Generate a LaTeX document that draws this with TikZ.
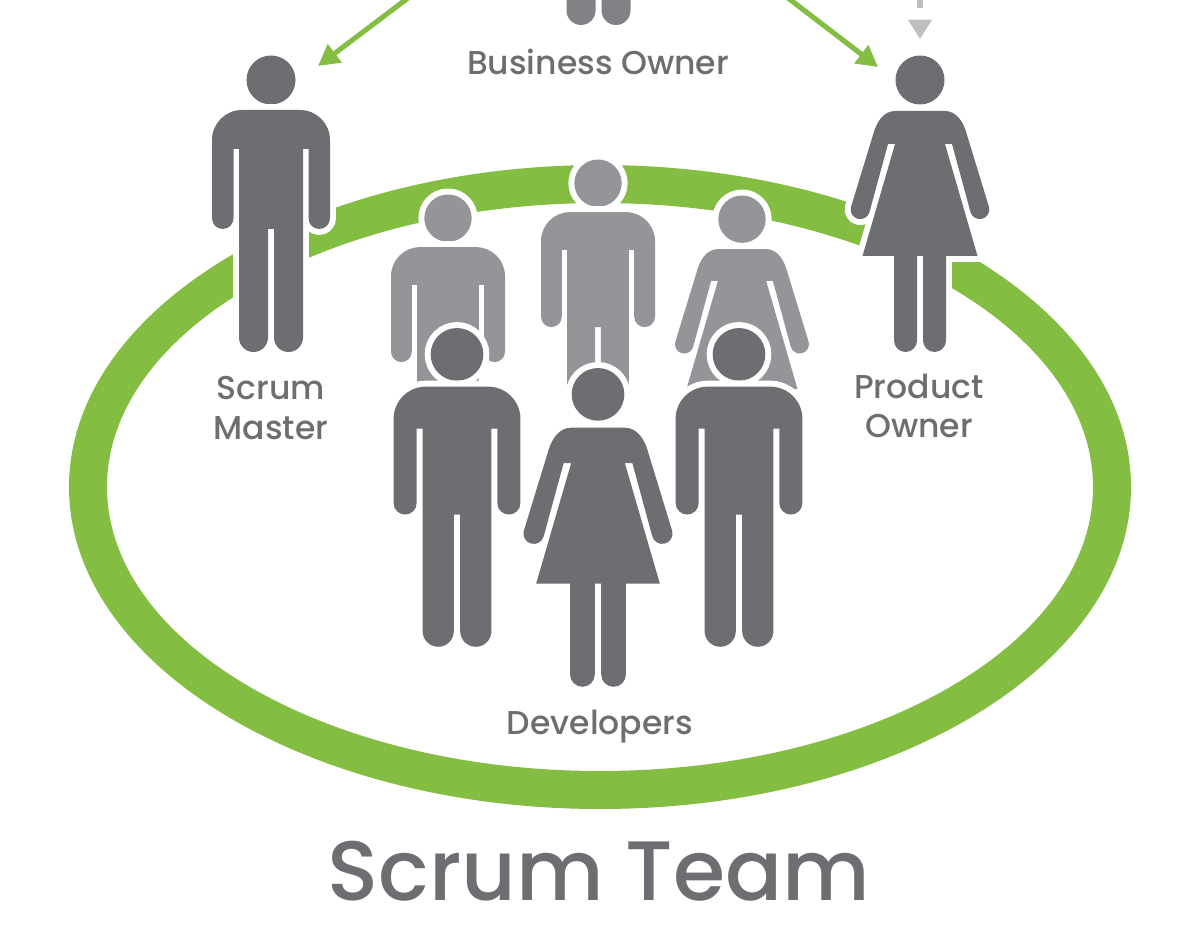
\documentclass[tikz,border=0pt]{standalone}
\usepackage{fontspec}
\setmainfont{Poppins Medium}
\usepackage{tikz}
\usetikzlibrary{arrows.meta}
\definecolor{teamgreen}{HTML}{83BD42}
\definecolor{figdark}{HTML}{6D6E71}
\definecolor{figmid}{HTML}{808285}
\definecolor{figlight}{HTML}{939598}
\definecolor{cutgray}{HTML}{BCBEC0}
\newcommand{\manfig}[4]{%
  \begin{scope}[shift={(#1,{-(#2)})},scale=#3]
    \fill[#4,figure halo] (0,-25) circle (24.5);
    \fill[#4,figure halo] (-29,-55) -- (29,-55) arc[start angle=90,end angle=0,radius=30]
      -- (59,-163.25) arc[start angle=0,end angle=-180,radius=10.75]
      -- (37.5,-94) -- (32,-94) -- (32,-282.5) arc[start angle=0,end angle=-180,radius=14.5]
      -- (3,-174) -- (-3,-174) -- (-3,-282.5) arc[start angle=0,end angle=-180,radius=14.5]
      -- (-32,-94) -- (-37.5,-94) -- (-37.5,-163.25) arc[start angle=0,end angle=-180,radius=10.75]
      -- (-59,-85) arc[start angle=180,end angle=90,radius=30] -- cycle;
  \end{scope}}
\newcommand{\womanfig}[4]{%
  \begin{scope}[shift={(#1,{-(#2)})},scale=#3]
    \fill[#4,figure halo] (0,-25) circle (24.5);
    \fill[#4,figure halo] (-25,-56) -- (25,-56) .. controls (37,-56) and (44,-68) .. (47,-80)
      -- (69,-152) arc[start angle=15,end angle=-165,radius=9.6]
      -- (32,-89) -- (25,-89) -- (57.5,-201) -- (26,-201)
      -- (26,-285.5) arc[start angle=0,end angle=-180,radius=11.5]
      -- (3,-201) -- (-3,-201) -- (-3,-285.5) arc[start angle=0,end angle=-180,radius=11.5]
      -- (-26,-201) -- (-57.5,-201) -- (-25,-89) -- (-32,-89)
      -- (-50.5,-157) arc[start angle=-15,end angle=-195,radius=9.6]
      -- (-47,-80) .. controls (-44,-68) and (-37,-56) .. (-25,-56) -- cycle;
  \end{scope}}
\begin{document}
\begin{tikzpicture}[x=0.02cm,y=0.02cm]
  \tikzstyle{figure halo}=[preaction={draw=white,line width=6.8pt,line join=round}]
  \tikzstyle{role}=[text=figdark,align=center,font=\fontsize{18.8}{22.5}\selectfont]
  \tikzstyle{report}=[teamgreen,line width=2.9pt,-{Triangle[length=12pt,width=12.5pt]}]
  \useasboundingbox (0,-942) rectangle (1199,0);
  \clip (0,-942) rectangle (1199,0);
  \fill[teamgreen,even odd rule] (600,-487) ellipse [x radius=531,y radius=322]
    (600,-487) ellipse [x radius=493,y radius=284];
  \coordinate (bo_left) at (408,2);
  \coordinate (sm_top) at (318,-66);
  \coordinate (bo_right) at (788,2);
  \coordinate (po_top) at (878,-67);
  \coordinate (up_po) at (920,10);
  \coordinate (in_po) at (920,-39);
  \draw[report] (bo_left) -- (sm_top);
  \draw[report] (bo_right) -- (po_top);
  \draw[cutgray,line width=3.4pt,dash pattern=on 10.2pt off 8pt,-{Triangle[length=11pt,width=13pt]}] (up_po) -- (in_po);
  \manfig{598.5}{-272}{1}{figmid}
  \manfig{271}{55}{1}{figdark}
  \womanfig{920}{55}{1}{figdark}
  \manfig{448}{194}{0.966}{figlight}
  \manfig{598}{159}{0.966}{figlight}
  \womanfig{742}{195}{0.966}{figlight}
  \fill[white] (560,-394) rectangle (636,-428);
  \manfig{457}{327.5}{1.075}{figdark}
  \manfig{739}{327.5}{1.075}{figdark}
  \womanfig{598}{367.5}{1.075}{figdark}
  \node[role,anchor=base] (bo_label) at (598,-75) {Business Owner};
  \node[role] (sm_label) at (271,-408) {Scrum\\Master};
  \node[role] (po_label) at (919,-406) {Product\\Owner};
  \node[role,anchor=base] (dev_label) at (600,-734) {Developers};
  \node[text=figdark,anchor=base,font=\fontsize{48}{60}\selectfont] (team_label) at (599,-900) {Scrum Team};
\end{tikzpicture}
\end{document}
